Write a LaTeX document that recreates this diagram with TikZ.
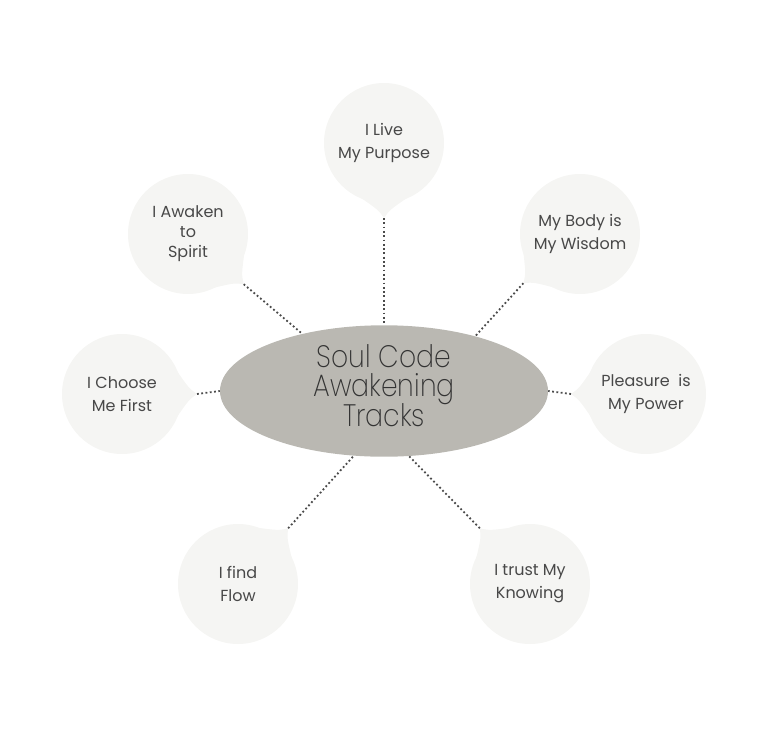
\documentclass[tikz,border=0pt]{standalone}
\usepackage{fontspec}
\setmainfont{Poppins}
\newfontfamily\titlefont[FakeStretch=0.86]{Poppins ExtraLight}
\definecolor{bubfill}{HTML}{F5F5F3}
\definecolor{corefill}{HTML}{BAB8B2}
\definecolor{ink}{HTML}{484848}
\definecolor{ink2}{HTML}{333333}
\definecolor{dotc}{HTML}{4A4A4A}
\usetikzlibrary{shapes.geometric}
\newcommand\tighttitle{\titlefont\fontsize{31}{29.5}\selectfont\lineskiplimit=-30pt\relax}
\tikzset{
  bub/.style={circle,fill=bubfill,minimum size=120pt,inner sep=0pt,align=center,font=\fontsize{16}{23}\selectfont,text=ink},
  core/.style={ellipse,fill=corefill,minimum width=328pt,minimum height=128pt,inner sep=0pt,align=center,
    font=\tighttitle,text=ink2,text depth=11pt},
  dots/.style={draw=dotc,line width=1.8pt,dash pattern=on 1.8pt off 2.5pt},
}

\begin{document}
\begin{tikzpicture}[x=1pt,y=-1pt]
\useasboundingbox (0,0) rectangle (768,744);
\node[core] (core) at (384,391) {Soul Code\\Awakening\\Tracks};
% bubbles: name/x/y/tail angle/anchor on core/text
\foreach \n/\x/\y/\a/\e/\t in {
  1/384/143/270/90/{I Live\\My Purpose},
  2/188/234/-42/145/{I Awaken\\[-3pt]to\\[-3pt]Spirit},
  3/580/234/221/31/{My Body is\\My Wisdom},
  4/122/394/0/180/{I Choose\\Me First},
  5/646/394/180/0/{Pleasure\ \ is\\My Power},
  6/238/584/48/245/{I find\\Flow},
  7/530/584/132/291/{I trust My\\Knowing}}
{
  \node[bub] (b\n) at (\x,\y) {\t};
  \coordinate (t\n) at ([shift={(\a:75pt)}]b\n.center);
  \fill[bubfill] ([shift={(\a+26:59pt)}]b\n.center) .. controls ([shift={(\a+5:67pt)}]b\n.center) .. (t\n)
    .. controls ([shift={(\a-5:67pt)}]b\n.center) .. ([shift={(\a-26:59pt)}]b\n.center) -- cycle;
  \draw[dots] (t\n) -- (core.\e);
}
\end{tikzpicture}
\end{document}
